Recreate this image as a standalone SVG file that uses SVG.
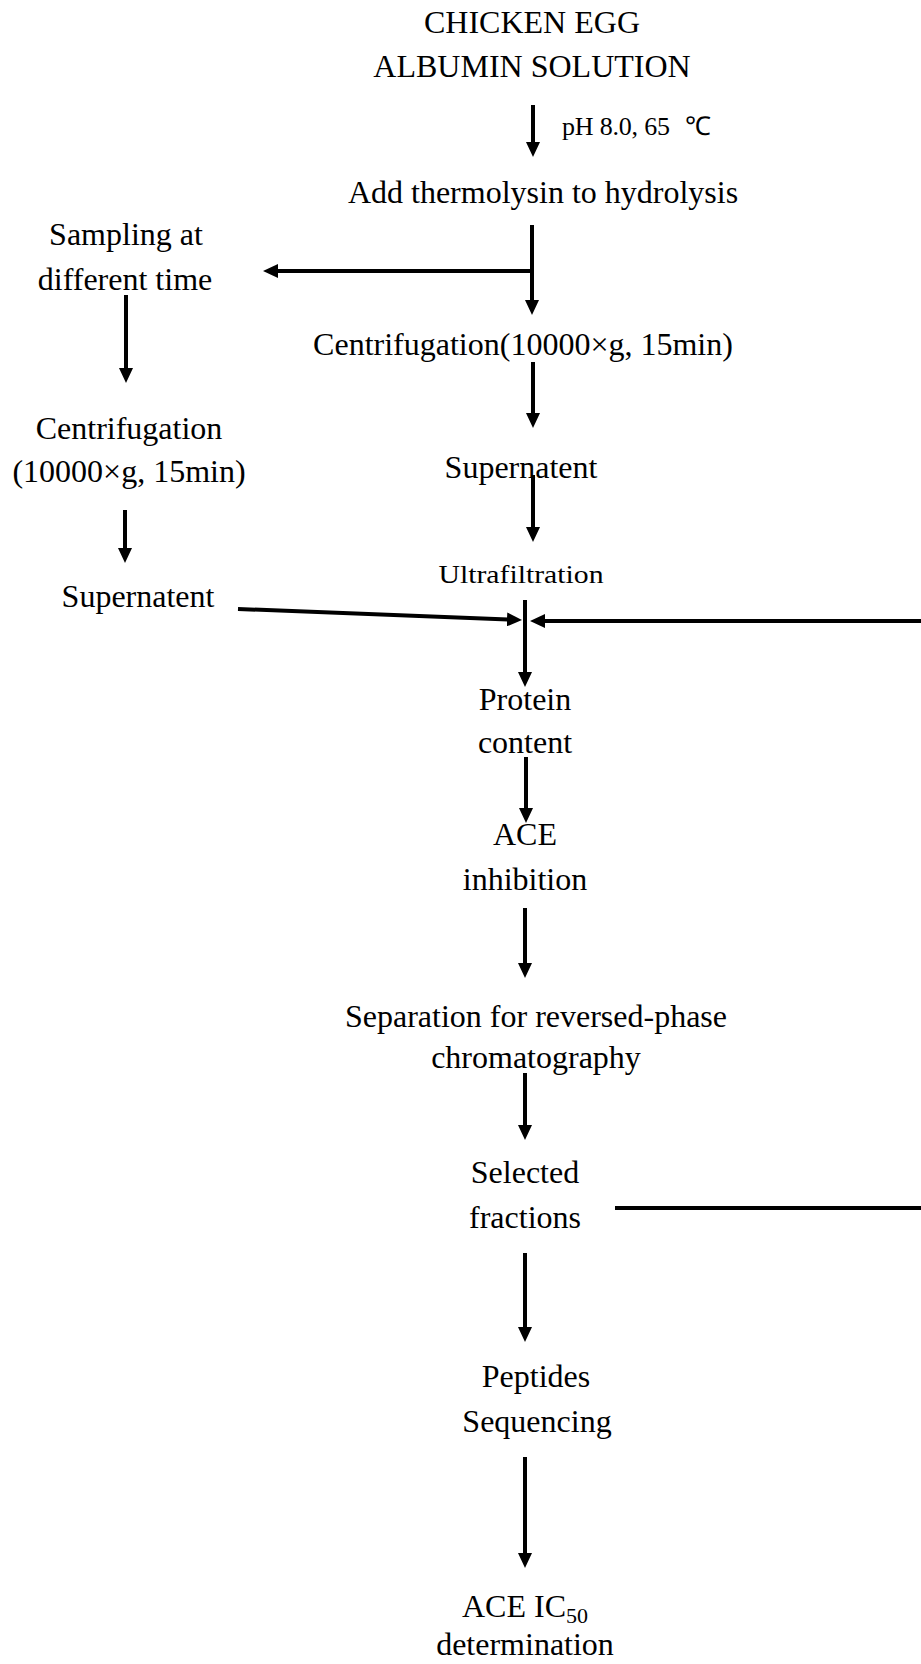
<svg xmlns="http://www.w3.org/2000/svg" width="921" height="1664" viewBox="0 0 921 1664">
<style>
text{font-family:"Liberation Serif","Times New Roman",serif;font-size:32px;fill:#000;text-anchor:middle}
.c line{stroke:#000;stroke-width:4;fill:none}
.a{marker-end:url(#ah)}
</style>
<defs>
<marker id="ah" markerUnits="userSpaceOnUse" markerWidth="16" markerHeight="14" viewBox="0 0 16 14" refX="1" refY="7" orient="auto">
<path d="M0,0 L15,7 L0,14 z" fill="#000"/>
</marker>
</defs>
<rect width="921" height="1664" fill="#fff"/>
<g id="n-albumin"><text x="532" y="33">CHICKEN EGG</text><text x="532" y="77">ALBUMIN SOLUTION</text></g>
<g id="n-cond"><text x="562" y="135" style="text-anchor:start;font-size:26px" textLength="108">pH 8.0, 65</text><text x="685" y="135" style="text-anchor:start;font-size:26px">℃</text></g>
<g id="n-thermolysin"><text x="543" y="203">Add thermolysin to hydrolysis</text></g>
<g id="n-sampling"><text x="126" y="245">Sampling at</text><text x="125" y="290">different time</text></g>
<g id="n-centri-main"><text x="523" y="355">Centrifugation(10000×g, 15min)</text></g>
<g id="n-centri-left"><text x="129" y="439">Centrifugation</text><text x="129" y="482">(10000×g, 15min)</text></g>
<g id="n-super-main"><text x="521" y="478">Supernatent</text></g>
<g id="n-ultra"><text x="521" y="583" style="font-size:25px" textLength="165" lengthAdjust="spacingAndGlyphs">Ultrafiltration</text></g>
<g id="n-super-left"><text x="138" y="607">Supernatent</text></g>
<g id="n-protein"><text x="525" y="710">Protein</text><text x="525" y="753">content</text></g>
<g id="n-ace"><text x="525" y="845">ACE</text><text x="525" y="890">inhibition</text></g>
<g id="n-sep"><text x="536" y="1027">Separation for reversed-phase</text><text x="536" y="1068">chromatography</text></g>
<g id="n-sel"><text x="525" y="1183">Selected</text><text x="525" y="1228">fractions</text></g>
<g id="n-pep"><text x="536" y="1387">Peptides</text><text x="537" y="1432">Sequencing</text></g>
<g id="n-ic50"><text x="462" y="1617" style="text-anchor:start">ACE IC<tspan style="font-size:22px" dy="6">50</tspan></text><text x="525" y="1655">determination</text></g>
<g id="connectors" class="c">
<line class="a" x1="533" y1="105" x2="533" y2="143"/>
<line class="a" x1="532" y1="225" x2="532" y2="301"/>
<line class="a" x1="534" y1="271" x2="277" y2="271"/>
<line class="a" x1="126" y1="295" x2="126" y2="369"/>
<line class="a" x1="533" y1="362" x2="533" y2="414"/>
<line class="a" x1="125" y1="510" x2="125" y2="549"/>
<line class="a" x1="533" y1="475" x2="533" y2="528"/>
<line class="a" x1="238" y1="609" x2="508" y2="619.5"/>
<line class="a" x1="921" y1="621" x2="544" y2="621"/>
<line class="a" x1="525" y1="600" x2="525" y2="673"/>
<line class="a" x1="526" y1="757" x2="526" y2="809"/>
<line class="a" x1="525" y1="908" x2="525" y2="964"/>
<line class="a" x1="525" y1="1073" x2="525" y2="1126"/>
<line x1="615" y1="1208" x2="921" y2="1208"/>
<line class="a" x1="525" y1="1253" x2="525" y2="1328"/>
<line class="a" x1="525" y1="1457" x2="525" y2="1554"/>
</g>
</svg>
